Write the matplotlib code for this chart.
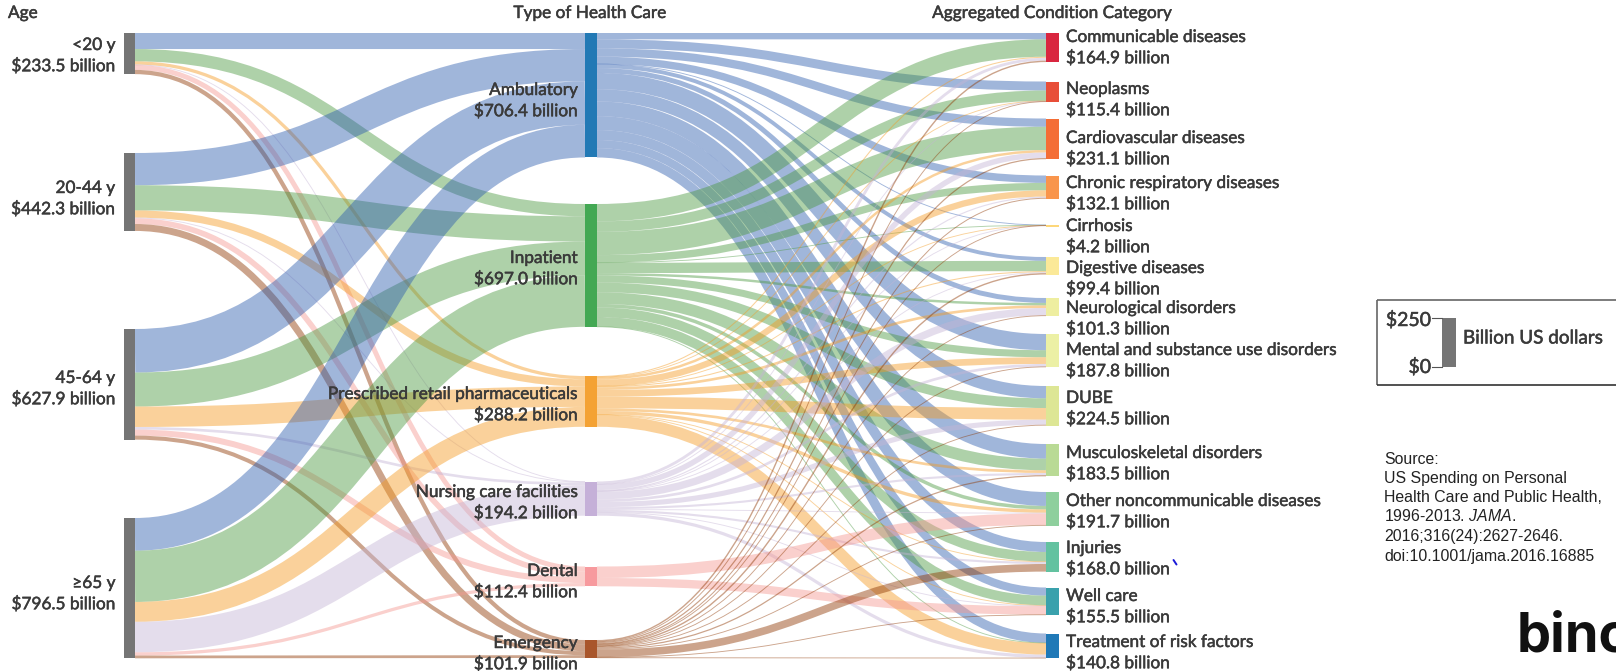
import numpy as np
import matplotlib
matplotlib.use("Agg")
from matplotlib import pyplot as plt
from matplotlib.path import Path
from matplotlib.patches import PathPatch, Rectangle
import matplotlib.patheffects as pe

plt.rcParams["mathtext.fontset"] = "custom"
plt.rcParams["mathtext.it"] = "Liberation Sans:italic"

# %% datos (billion US dollars)
ages = ["<20 y", "20-44 y", "45-64 y", "\u226565 y"]
age_totals = [233.5, 442.3, 627.9, 796.5]

types = ["Ambulatory", "Inpatient", "Prescribed retail pharmaceuticals",
         "Nursing care facilities", "Dental", "Emergency"]
type_totals = [706.4, 697.0, 288.2, 194.2, 112.4, 101.9]

conditions = ["Communicable diseases", "Neoplasms", "Cardiovascular diseases",
              "Chronic respiratory diseases", "Cirrhosis", "Digestive diseases",
              "Neurological disorders", "Mental and substance use disorders",
              "DUBE", "Musculoskeletal disorders", "Other noncommunicable diseases",
              "Injuries", "Well care", "Treatment of risk factors"]
condition_totals = [164.9, 115.4, 231.1, 132.1, 4.2, 99.4, 101.3, 187.8,
                    224.5, 183.5, 191.7, 168.0, 155.5, 140.8]

# filas: edad, columnas: tipo
age_type = [[91.0, 70.0, 18.5, 2.0, 28.0, 24.0],
            [183.0, 143.0, 41.0, 4.0, 32.0, 39.3],
            [247.0, 193.0, 116.0, 15.0, 34.0, 22.9],
            [185.4, 291.0, 112.7, 173.2, 18.4, 15.7]]

# filas: condicion, columnas: tipo
cond_type = [[36.0, 98.9, 6.0, 16.0, 0.0, 8.0],
             [51.0, 59.0, 1.5, 1.0, 0.0, 2.9],
             [47.0, 132.1, 14.0, 31.0, 0.0, 7.0],
             [42.0, 42.0, 36.0, 6.5, 0.0, 5.6],
             [0.8, 1.5, 0.7, 0.2, 0.0, 1.0],
             [22.0, 58.4, 6.0, 5.0, 0.0, 8.0],
             [28.0, 14.0, 15.0, 42.0, 0.0, 2.3],
             [92.0, 40.0, 38.0, 15.0, 0.0, 2.8],
             [70.0, 55.0, 66.0, 29.0, 0.0, 4.5],
             [83.0, 66.4, 15.0, 12.0, 0.0, 7.1],
             [79.0, 19.8, 19.0, 4.0, 65.2, 4.7],
             [56.6, 54.2, 2.0, 12.0, 0.0, 43.2],
             [46.0, 54.8, 3.0, 2.5, 47.2, 2.0],
             [53.0, 1.0, 66.0, 18.0, 0.0, 2.8]]

# %% layout en pixeles
px_per_bn = 0.1762
age_x = (123.5, 135.0)
type_x = (585.0, 597.0)
cond_x = (1046.0, 1059.0)
age_top = [33.0, 153.0, 329.0, 518.0]
type_top = [33.0, 204.0, 376.0, 481.5, 566.5, 640.0]
cond_top = [33.0, 81.5, 118.5, 175.5, 225.0, 257.0, 298.0, 334.0,
            386.0, 444.0, 492.0, 542.0, 587.5, 633.5]

age_label_y = [45, 188, 378, 583]
type_label_y = [90, 258, 394, 492, 571, 643]
cond_label_y = [37, 89, 138, 183, 226, 268, 308, 350, 398, 453, 501, 548, 596, 642]
line_gap = 21

type_colors = ["#2279b5", "#43a853", "#f4a234", "#c5b0d8", "#f79a9e", "#a9562b"]
link_colors = ["#2e5daf", "#4d9942", "#f49b21", "#c5b4d5", "#f49790", "#8e3700"]
cond_colors = ["#d9263f", "#e84e38", "#f46d35", "#f9954c", "#fdd77a", "#fbe998",
               "#eeeea0", "#ecf0a5", "#dde695", "#b9da95", "#8ecf9d", "#63c2a0",
               "#3aa1ac", "#2079b7"]
gray = "#757575"
txt = "#3a3a3a"
narrow = ["Lato", "DejaVu Sans"]
fs = 12.4
heavy = [pe.withStroke(linewidth=0.35, foreground=txt)]

fig = plt.figure(figsize=(16.16, 6.71), dpi=100)
ax = fig.add_axes([0, 0, 1, 1])
ax.set_xlim(0, 1616)
ax.set_ylim(671, 0)
ax.axis("off")


def link(x0, y0, x1, y1, value, color):
    xm = (x0 + x1) / 2
    p = Path([(x0, y0), (xm, y0), (xm, y1), (x1, y1)],
             [Path.MOVETO, Path.CURVE4, Path.CURVE4, Path.CURVE4])
    w = max(value * px_per_bn, 0.9) * 72 / 100
    ax.add_patch(PathPatch(p, fc="none", ec=color, lw=w, alpha=0.45,
                           capstyle="butt", zorder=2))


def t(x, y, s, ha="left", size=fs):
    ax.text(x, y, s, ha=ha, va="center", family=narrow, fontsize=size, color=txt,
            zorder=5, path_effects=heavy)


# %% enlaces edad -> tipo
a_t = np.array(age_type)
offs_t = np.array(type_top, dtype=float)
for i in range(len(ages)):
    y0 = age_top[i]
    for j in range(len(types)):
        v = a_t[i, j]
        h = v * px_per_bn
        link(age_x[1], y0 + h / 2, type_x[0], offs_t[j] + h / 2, v, link_colors[j])
        y0 += h
        offs_t[j] += h

# %% enlaces tipo -> condicion
c_t = np.array(cond_type)
for j in range(len(types)):
    y0 = type_top[j]
    for k in range(len(conditions)):
        v = c_t[k, j]
        if v == 0:
            continue
        h = v * px_per_bn
        link(type_x[1], y0 + h / 2, cond_x[0], cond_top[k] + c_t[k, :j].sum() * px_per_bn + h / 2,
             v, link_colors[j])
        y0 += h

# %% nodos
for i, v in enumerate(age_totals):
    ax.add_patch(Rectangle((age_x[0], age_top[i]), age_x[1] - age_x[0], v * px_per_bn,
                           fc=gray, ec="none", zorder=3))
for j, v in enumerate(type_totals):
    ax.add_patch(Rectangle((type_x[0], type_top[j]), type_x[1] - type_x[0], v * px_per_bn,
                           fc=type_colors[j], ec="none", zorder=3))
for k, v in enumerate(condition_totals):
    ax.add_patch(Rectangle((cond_x[0], cond_top[k]), cond_x[1] - cond_x[0], max(v * px_per_bn, 2),
                           fc=cond_colors[k], ec="none", zorder=3))

for i in range(len(ages)):
    t(115.5, age_label_y[i], ages[i], "right")
    t(115.5, age_label_y[i] + line_gap, "$%.1f billion" % age_totals[i], "right")
for j in range(len(types)):
    t(578, type_label_y[j], types[j], "right")
    t(578, type_label_y[j] + line_gap, "$%.1f billion" % type_totals[j], "right")
for k in range(len(conditions)):
    t(1066, cond_label_y[k], conditions[k])
    t(1066, cond_label_y[k] + line_gap, "$%.1f billion" % condition_totals[k])

# %% titulos de columna
t(8, 13, "Age")
t(590, 13, "Type of Health Care", "center")
t(1052, 13, "Aggregated Condition Category", "center")

# %% leyenda
ax.plot([1377, 1616], [299.5, 299.5], color="#666666", lw=1.2, solid_capstyle="butt")
ax.plot([1377, 1377], [299.5, 384.5], color="#666666", lw=1.2, solid_capstyle="butt")
ax.plot([1377, 1616], [384.5, 384.5], color="#333333", lw=1.2, solid_capstyle="butt")
ax.add_patch(Rectangle((1442, 318), 14, 49, fc=gray, ec="none"))
ax.plot([1432, 1442], [318, 318], color="#555555", lw=0.8)
ax.plot([1432, 1442], [367, 367], color="#555555", lw=0.8)
t(1431, 320, "$250", "right", 14)
t(1431, 367, "$0", "right", 14)
t(1463, 338, "Billion US dollars", "left", 13.6)

# %% fuente
src = ["Source:", "US Spending on Personal", "Health Care and Public Health,",
       "1996-2013. $\\mathit{JAMA}$.", "2016;316(24):2627-2646.", "doi:10.1001/jama.2016.16885"]
src_y = [460, 479, 497, 516, 537, 556]
for s, y in zip(src, src_y):
    ax.text(1384, y, s, ha="left", va="center", family="Liberation Sans", fontsize=11.4, color="#222222")

ax.text(1517, 652, "binc", ha="left", va="baseline", family="Inter", fontweight="bold", fontsize=39,
        color="#111111", clip_on=True)

# marca azul suelta junto a Injuries
ax.plot([1173.5, 1176.5], [560, 564.5], color="#1a1ad8", lw=1.4, solid_capstyle="round")

fig.savefig("out.png", dpi=100)
